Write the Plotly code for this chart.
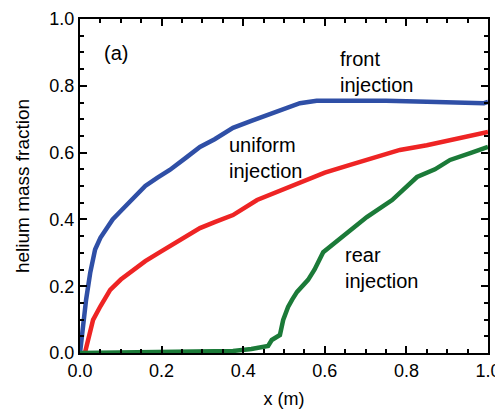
import plotly.graph_objects as go

# front injection
x_front = [0.0, 0.007, 0.015, 0.025, 0.037, 0.05, 0.065, 0.08, 0.1, 0.127, 0.16, 0.19, 0.22, 0.26, 0.294, 0.33, 0.375, 0.42, 0.458, 0.5, 0.539, 0.58, 0.65, 0.75, 0.85, 0.95, 0.99, 1.0]
y_front = [0.0, 0.08, 0.16, 0.24, 0.31, 0.345, 0.375, 0.40, 0.425, 0.458, 0.50, 0.525, 0.548, 0.585, 0.617, 0.64, 0.674, 0.695, 0.713, 0.73, 0.748, 0.755, 0.756, 0.755, 0.752, 0.75, 0.748, 0.752]

# uniform injection
x_uni = [0.012, 0.02, 0.032, 0.05, 0.074, 0.1, 0.13, 0.16, 0.196, 0.24, 0.294, 0.33, 0.375, 0.434, 0.49, 0.539, 0.6, 0.662, 0.72, 0.784, 0.85, 0.907, 0.96, 1.0]
y_uni = [0.0, 0.04, 0.099, 0.14, 0.189, 0.22, 0.248, 0.275, 0.302, 0.335, 0.374, 0.392, 0.413, 0.458, 0.485, 0.512, 0.54, 0.563, 0.585, 0.608, 0.622, 0.638, 0.65, 0.662]

# rear injection
x_rear = [0.0, 0.1, 0.2, 0.294, 0.375, 0.42, 0.461, 0.47, 0.49, 0.498, 0.51, 0.52, 0.532, 0.559, 0.575, 0.596, 0.62, 0.662, 0.703, 0.765, 0.826, 0.87, 0.907, 0.96, 1.0]
y_rear = [0.0, 0.001, 0.002, 0.003, 0.006, 0.012, 0.021, 0.039, 0.054, 0.099, 0.138, 0.16, 0.183, 0.219, 0.25, 0.302, 0.325, 0.368, 0.407, 0.458, 0.527, 0.55, 0.578, 0.60, 0.617]

FONT = "Arial, Liberation Sans, Helvetica, sans-serif"

fig = go.Figure()
fig.add_trace(go.Scatter(x=x_front, y=y_front, mode="lines", line=dict(color="#2F4FA6", width=4.5)))
fig.add_trace(go.Scatter(x=x_uni, y=y_uni, mode="lines", line=dict(color="#EE2424", width=4.5)))
fig.add_trace(go.Scatter(x=x_rear, y=y_rear, mode="lines", line=dict(color="#1B7A38", width=4.5)))

ann_font = dict(family=FONT, size=20, color="black")
fig.add_annotation(x=0.054, y=0.898, text="(a)", showarrow=False, xanchor="left", yanchor="middle", font=ann_font)
fig.add_annotation(x=0.632, y=0.841, text="front<br>injection", showarrow=False, xanchor="left", yanchor="middle", align="left", font=ann_font)
fig.add_annotation(x=0.36, y=0.584, text="uniform<br>injection", showarrow=False, xanchor="left", yanchor="middle", align="left", font=ann_font)
fig.add_annotation(x=0.645, y=0.254, text="rear<br>injection", showarrow=False, xanchor="left", yanchor="middle", align="left", font=ann_font)

axis_common = dict(
    showline=True, linecolor="black", linewidth=2, mirror="allticks",
    ticks="inside", ticklen=7, tickwidth=2, tickcolor="black",
    showgrid=False, zeroline=False, automargin=False,
    tickfont=dict(family=FONT, size=18, color="black"),
    minor=dict(ticks="inside", ticklen=4, tickwidth=1.5, tickcolor="black", dtick=0.05, showgrid=False),
)

fig.update_xaxes(range=[0, 1], dtick=0.2, tickformat=".1f",
                 title=dict(text="x (m)", font=dict(family=FONT, size=18, color="black")),
                 **axis_common)
fig.update_yaxes(range=[0, 1], dtick=0.2, tickformat=".1f",
                 title=dict(text="helium mass fraction", font=dict(family=FONT, size=19, color="black")),
                 **axis_common)

fig.update_layout(
    width=495, height=401,
    margin=dict(l=72, r=15, t=11, b=56),
    paper_bgcolor="white", plot_bgcolor="white",
    showlegend=False,
    font=dict(family=FONT, size=18, color="black"),
)

fig.write_html("out.html")
